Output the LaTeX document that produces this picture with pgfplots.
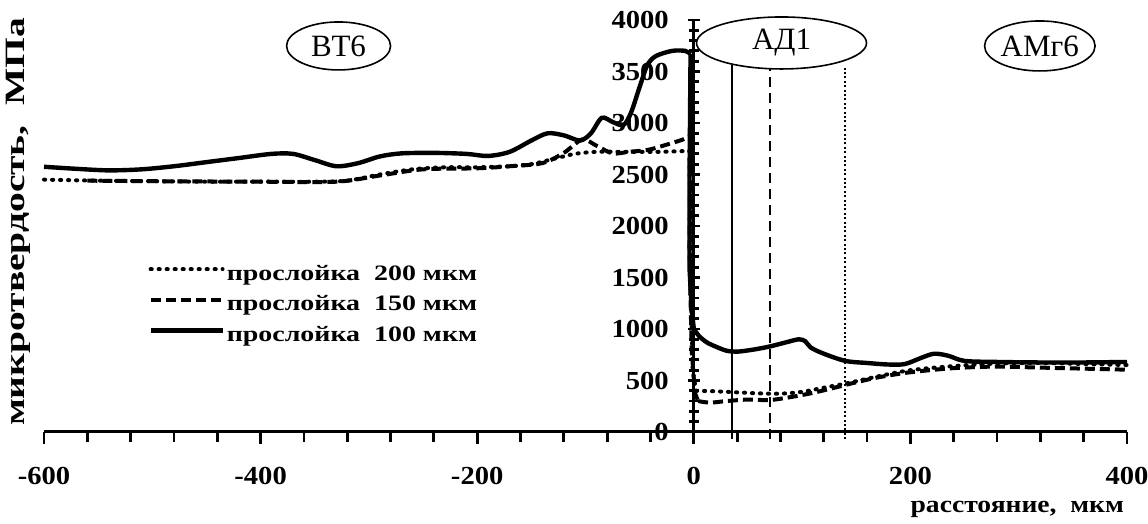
\documentclass[border=0pt]{standalone}
\usepackage{graphicx}
\usepackage{fontspec}
\setmainfont{Liberation Serif}
\usepackage{pgfplots}
\pgfplotsset{compat=1.18}
\usetikzlibrary{shapes.geometric}
\begin{document}
\begin{tikzpicture}
\path[use as bounding box] (-22pt,-46pt) rectangle (552pt,216pt);
\begin{axis}[
  scale only axis, width=541.5pt, height=206pt,
  xmin=-600, xmax=400, ymin=0, ymax=4000,
  axis x line*=bottom, axis y line*=middle,
  hide obscured x ticks=false, hide obscured y ticks=false,
  clip=false,
  axis line style={line width=1.5pt, black},
  xtick={-600,-400,-200,0,200,400},
  xticklabels={\scalebox{1.1}[1]{-600},\scalebox{1.1}[1]{-400},\scalebox{1.1}[1]{-200},\scalebox{1.1}[1]{0},\scalebox{1.1}[1]{200},\scalebox{1.1}[1]{400}},
  minor x tick num=4,
  ytick={0,500,1000,1500,2000,2500,3000,3500,4000},
  yticklabels={\scalebox{1.1}[1]{0},\scalebox{1.1}[1]{500},\scalebox{1.1}[1]{1000},\scalebox{1.1}[1]{1500},\scalebox{1.1}[1]{2000},\scalebox{1.1}[1]{2500},\scalebox{1.1}[1]{3000},\scalebox{1.1}[1]{3500},\scalebox{1.1}[1]{4000}},
  minor y tick num=4,
  xtick align=outside, ytick align=center,
  x tick style={line width=1.4pt, black}, y tick style={line width=1.4pt, black},
  xtick pos=bottom,
  major tick length=6pt, minor tick length=5pt,
  tick label style={font=\bfseries\fontsize{13}{13}\selectfont},
  xticklabel style={yshift=-8pt},
  yticklabel style={xshift=-6pt},
  legend style={at={(axis cs:-504,1650)}, anchor=north west, draw=none, fill=none, inner sep=0pt,
    nodes={inner sep=1pt, text height=8pt, text depth=2pt}, row sep=3.25pt,
    font=\bfseries\fontsize{11}{11}\selectfont},
  legend cell align=left,
  legend image code/.code={\draw[#1] (0pt,2.5pt) -- (36pt,2.5pt);},
]
% vertical lines
\addplot[black, line width=1pt, forget plot] coordinates {(35,-70) (35,3560)};
\addplot[black, line width=1pt, dash pattern=on 5pt off 3pt, forget plot] coordinates {(70,-70) (70,3560)};
\addplot[black, line width=1pt, dash pattern=on 1pt off 1.2pt, forget plot] coordinates {(140,-70) (140,3560)};

% 200 um (dotted)
\addplot[black, line width=2pt, line cap=round, dash pattern=on 0.6pt off 3.4pt, smooth, tension=0.5] coordinates {
(-600,2450) (-550,2440) (-500,2435) (-450,2430) (-400,2430) (-350,2430) (-320,2440) (-290,2500) (-260,2550) (-230,2570) (-200,2570) (-170,2580) (-150,2600) (-130,2650) (-110,2700) (-90,2720) (-60,2720) (-30,2720) (-4,2730)
};
\addlegendentry{\scalebox{1.27}[1]{прослойка\ \ 200 мкм}}
\addplot[black, line width=2pt, line cap=round, dash pattern=on 0.6pt off 3.4pt, forget plot] coordinates {
(-4,2730) (-3,1500) (-1,600) (2,400)
};
\addplot[black, line width=2pt, line cap=round, dash pattern=on 0.6pt off 3.4pt, smooth, tension=0.5, forget plot] coordinates {
(2,400) (20,395) (40,385) (60,375) (80,372) (100,390) (120,430) (140,470) (170,540) (200,600) (240,640) (280,665) (320,670) (360,660) (400,650)
};
% 150 um (dashed)
\addplot[black, line width=2pt, dash pattern=on 5pt off 2.5pt, smooth, tension=0.5] coordinates {
(-560,2440) (-500,2435) (-400,2430) (-330,2430) (-290,2490) (-250,2550) (-200,2560) (-170,2580) (-140,2610) (-120,2710) (-103,2840) (-90,2780) (-75,2705) (-60,2720) (-42,2740) (-25,2790) (-10,2840) (-3,2880)
};
\addlegendentry{\scalebox{1.27}[1]{прослойка\ \ 150 мкм}}
\addplot[black, line width=2pt, dash pattern=on 5pt off 2.5pt, forget plot] coordinates {
(-3,2880) (-4,1800) (-2,800) (1,380) (4,300)
};
\addplot[black, line width=2pt, dash pattern=on 5pt off 2.5pt, smooth, tension=0.5, forget plot] coordinates {
(4,300) (15,285) (30,300) (50,315) (70,310) (90,340) (110,380) (130,430) (145,470) (170,530) (200,580) (240,620) (280,635) (320,625) (360,615) (400,605)
};
% 100 um (solid)
\addplot[black, line width=2.2pt, smooth, tension=0.5] coordinates {
(-600,2575) (-570,2555) (-540,2540) (-510,2550) (-480,2580) (-450,2620) (-420,2660) (-390,2700) (-370,2700) (-350,2640) (-330,2580) (-310,2610) (-290,2675) (-270,2705) (-240,2710) (-210,2700) (-190,2680) (-170,2720) (-150,2830) (-135,2900) (-120,2880) (-105,2830) (-95,2900) (-85,3050) (-75,3010) (-65,2980) (-58,3100) (-50,3350) (-43,3560) (-35,3650) (-20,3700) (-8,3700) (-3,3670)
};
\addlegendentry{\scalebox{1.27}[1]{прослойка\ \ 100 мкм}}
\addplot[black, line width=2.2pt, line join=round, forget plot] coordinates {
(-3,3670) (-4,2400) (-4,1600) (-2,1200) (0,1000)
};
\addplot[black, line width=2.2pt, smooth, tension=0.5, forget plot] coordinates {
(0,1000) (5,930) (12,870) (20,830) (30,790) (40,780) (55,800) (70,830) (85,870) (97,900) (103,880) (108,820) (120,760) (140,690) (160,670) (180,655) (195,660) (210,720) (222,760) (235,740) (250,690) (280,680) (320,675) (360,675) (400,680)
};

\node[draw, ellipse, fill=white, line width=0.8pt, minimum width=52pt, minimum height=24pt, inner sep=0pt, font=\fontsize{15.5}{15.5}\selectfont] at (axis cs:-328,3748) {ВТ6};
\node[draw, ellipse, fill=white, line width=0.8pt, minimum width=85pt, minimum height=26pt, inner sep=0pt, font=\fontsize{15.5}{15.5}\selectfont] at (axis cs:81,3777) {АД1};
\node[draw, ellipse, fill=white, line width=0.8pt, minimum width=53pt, minimum height=25pt, inner sep=0pt, font=\fontsize{15.5}{15.5}\selectfont] at (axis cs:319.5,3748) {АМг6};

\node[anchor=east, font=\bfseries\fontsize{12}{12}\selectfont] at ([xshift=2pt, yshift=-38.5pt]axis description cs:1,0) {\scalebox{1.15}[1]{расстояние,\ \ мкм}};
\node[rotate=90, font=\bfseries\fontsize{14}{14}\selectfont] at ([xshift=-13pt]axis description cs:0,0.51) {\scalebox{1.41}[1]{микротвердость,\ \ МПа}};
\end{axis}
\end{tikzpicture}
\end{document}
